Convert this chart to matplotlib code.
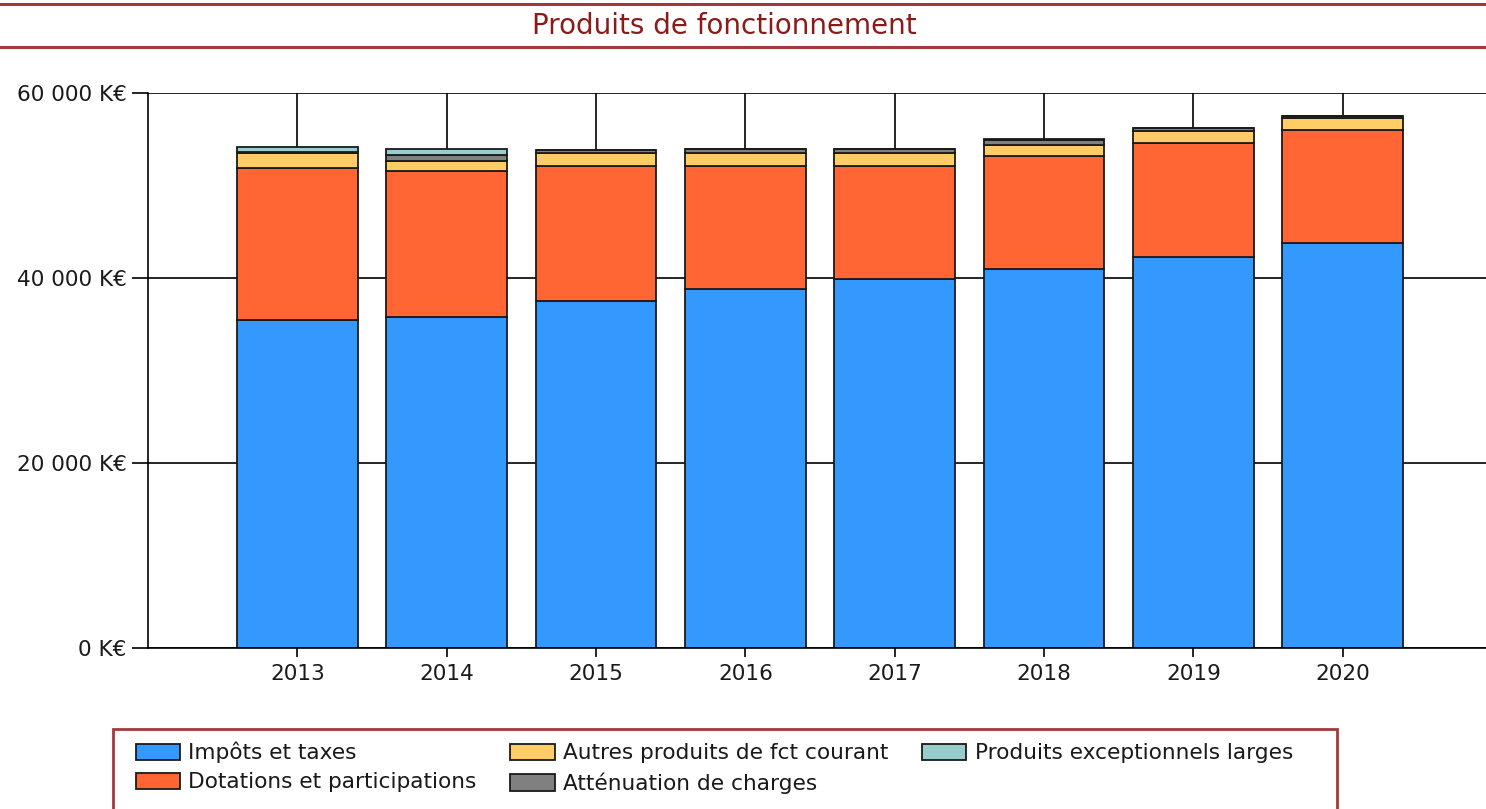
#!/usr/bin/env python
"""
Stacked bar chart of the operating revenues (Produits de fonctionnement), 2013-2020, in K€.
Saves the figure as out.png.
"""

# importing libraries
import matplotlib.pyplot as plt
from matplotlib.patches import Rectangle
from matplotlib.lines import Line2D

# years on the x axis
years = ["2013", "2014", "2015", "2016", "2017", "2018", "2019", "2020"]

# series values in K€
impots = [35460, 35780, 37510, 38810, 39890, 40970, 42270, 43780]
dotations = [16440, 15790, 14650, 13330, 12250, 12270, 12290, 12270]
autres = [1560, 1130, 1350, 1340, 1340, 1190, 1360, 1250]
attenuation = [200, 600, 280, 420, 420, 500, 300, 200]
exceptionnels = [450, 650, 50, 50, 50, 100, 50, 50]

# series labels and colours
series_names = ["Impôts et taxes", "Dotations et participations", "Autres produits de fct courant",
                "Atténuation de charges", "Produits exceptionnels larges"]
series_colors = ["#3399FF", "#FF6633", "#FFCC66", "#808080", "#99CCCC"]

# y tick values
y_ticks = [0, 20000, 40000, 60000]

TITLE_COLOR = "#8B1A1A"
FRAME_COLOR = "#A33A3A"
TEXT_COLOR = "#1a1a1a"
FS = 15.6


def fmt_keuro(v):
    # "60 000 K€" style labels
    return f"{v:,.0f}".replace(",", " ") + " K€"


def main():
    W, H = 1486, 809
    fig = plt.figure(figsize=(W / 100, H / 100), dpi=100)
    plt.rcParams["font.family"] = ["DejaVu Sans"]

    # title band with two red rules
    for y in (4, 47):
        fig.add_artist(Line2D([0, 1], [1 - y / H, 1 - y / H], color=FRAME_COLOR, lw=2.2,
                              transform=fig.transFigure))
    fig.text(724 / W, 1 - 26 / H, "Produits de fonctionnement", color=TITLE_COLOR,
             fontsize=20, ha="center", va="center")

    # plot area
    left, right, top, bottom = 148, 1486, 93, 648
    ax = fig.add_axes([left / W, 1 - bottom / H, (right - left) / W, (bottom - top) / H])
    x = list(range(len(years)))

    # vertical lines at each category, hidden behind the bars
    ax.vlines(x, 0, 60000, color="black", lw=1.2, zorder=0)

    # stacked bars
    base = [0] * len(years)
    for vals, name, col in zip([impots, dotations, autres, attenuation, exceptionnels],
                               series_names, series_colors):
        ax.bar(x, vals, bottom=base, width=0.81, color=col, edgecolor="#1a1a1a",
               linewidth=1.3, label=name, zorder=2)
        base = [b + v for b, v in zip(base, vals)]

    ax.set_xlim(-1, 7.96)
    ax.set_ylim(0, 60000)
    ax.set_xticks(x)
    ax.set_xticklabels(years)
    ax.set_yticks(y_ticks)
    ax.set_yticklabels([fmt_keuro(v) for v in y_ticks])

    # horizontal grid lines
    ax.set_axisbelow(True)
    ax.yaxis.grid(True, color="black", lw=1.2)

    for s in ("top", "right"):
        ax.spines[s].set_visible(False)
    for s in ("left", "bottom"):
        ax.spines[s].set_linewidth(1.2)
        ax.spines[s].set_zorder(3)
    ax.tick_params(axis="y", length=11.5, width=1.2, labelsize=FS, colors="black",
                   labelcolor=TEXT_COLOR, pad=4)
    ax.tick_params(axis="x", length=6.5, width=1.2, labelsize=FS, colors="black",
                   labelcolor=TEXT_COLOR, pad=5)

    # legend frame (runs off the bottom of the picture)
    fig.add_artist(Rectangle((113 / W, 1 - 812 / H), (1337 - 113) / W, (812 - 729) / H,
                             transform=fig.transFigure, fill=False,
                             edgecolor=FRAME_COLOR, lw=2))
    handles, labels = ax.get_legend_handles_labels()
    fig.legend(handles, labels, ncol=3, frameon=False, loc="upper left",
               bbox_to_anchor=(125 / W, 1 - 731 / H), fontsize=FS,
               handlelength=2.05, handleheight=0.8, handletextpad=0.38,
               columnspacing=1.55, labelspacing=0.42, borderpad=0,
               labelcolor=TEXT_COLOR)

    plt.savefig("out.png", dpi=100)


# Define behaviour when called from command line
if __name__ == "__main__":
    main()
